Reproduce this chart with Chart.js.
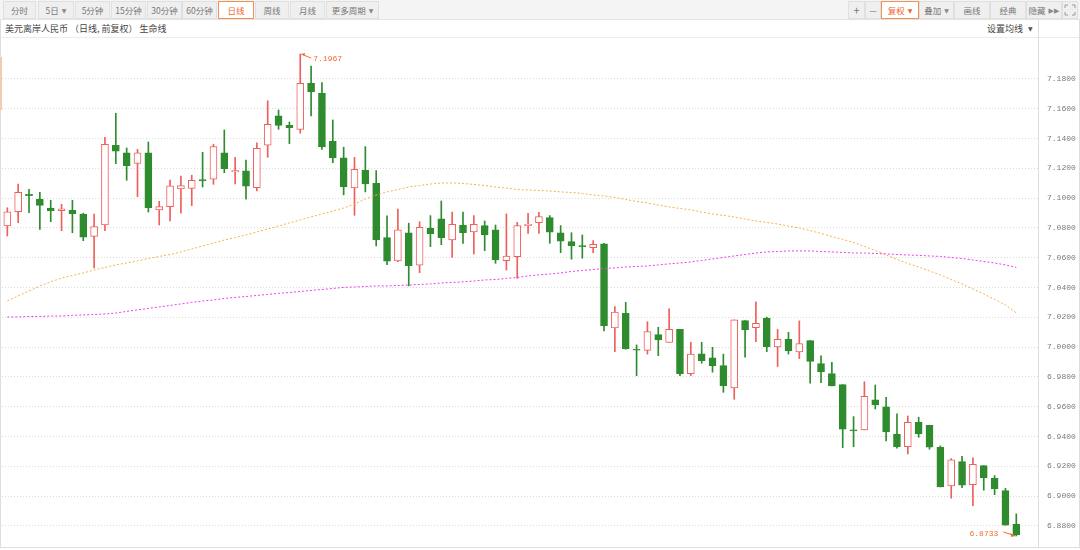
<!DOCTYPE html>
<html>
<head>
<meta charset="utf-8">
<script src="https://cdn.jsdelivr.net/npm/chart.js@4.4.1/dist/chart.umd.min.js"></script>
<style>
  body { margin: 0; width: 1080px; height: 550px; position: relative; overflow: hidden; background: #fff;
         font-family: "Noto Sans CJK SC", "Noto Sans", sans-serif; }
  #bar { position: absolute; left: 0; top: 0; width: 1080px; height: 20px; background: #f4f4f4; border-bottom: 1px solid #e3e3e3; box-sizing: border-box; }
  .b { position: absolute; top: 1px; height: 18px; line-height: 17px; box-sizing: border-box; border: 1px solid #e0e0e0;
       background: #efefef; color: #777; font-size: 8.5px; text-align: center; white-space: nowrap; }
  .b.on { background: #fff; border-color: #f19158; color: #f0662a; }
  .tri { font-family: "DejaVu Sans", sans-serif; font-size: 6px; color: #888; vertical-align: 1px; margin-left: 3px; }
  .on .tri { color: #f0662a; }
  #sub { position: absolute; left: 0; top: 20px; width: 1080px; height: 18px; border-bottom: 1px solid #ececec; box-sizing: border-box; }
  #title { position: absolute; left: 5px; top: 2px; font-size: 9px; color: #444; line-height: 14px; }
  #ma { position: absolute; left: 987px; top: 2px; font-size: 9px; color: #444; line-height: 14px; }
  #c { position: absolute; left: 0; top: 38px; }
  .ln { position: absolute; background: #dedede; }
</style>
</head>
<body>
<div id="bar">
  <div class="b" style="left:3px;width:33px">分时</div>
  <div class="b" style="left:38px;width:36px">5日<span class="tri">▼</span></div>
  <div class="b" style="left:75px;width:35px">5分钟</div>
  <div class="b" style="left:111px;width:35px">15分钟</div>
  <div class="b" style="left:147px;width:35px">30分钟</div>
  <div class="b" style="left:182px;width:35px">60分钟</div>
  <div class="b on" style="left:218px;width:36px">日线</div>
  <div class="b" style="left:255px;width:34px">周线</div>
  <div class="b" style="left:290px;width:35px">月线</div>
  <div class="b" style="left:326px;width:53px">更多周期<span class="tri">▼</span></div>

  <div class="b" style="left:848px;width:17px;font-size:11px">+</div>
  <div class="b" style="left:865px;width:16px">—</div>
  <div class="b on" style="left:881px;width:38px">复权<span class="tri">▼</span></div>
  <div class="b" style="left:919px;width:35px">叠加<span class="tri">▼</span></div>
  <div class="b" style="left:954px;width:36px">画线</div>
  <div class="b" style="left:990px;width:36px">经典</div>
  <div class="b" style="left:1026px;width:36px">隐藏<span class="tri" style="font-size:7px">▶▶</span></div>
  <div class="b" style="left:1062px;width:16px">
    <svg width="12" height="12" viewBox="0 0 12 12" style="margin-top:2px" fill="none" stroke="#999" stroke-width="1">
      <path d="M1 4V1H4M8 1H11V4M11 8V11H8M4 11H1V8"/>
    </svg>
  </div>
</div>
<div id="sub">
  <div id="title">美元离岸人民币 （日线, 前复权） 生命线</div>
  <div id="ma">设置均线 <span class="tri" style="color:#555">▼</span></div>
</div>
<canvas id="c" width="1080" height="510"></canvas>
<div class="ln" style="left:0;top:20px;width:1px;height:528px"></div>
<div class="ln" style="left:0;top:57px;width:2px;height:53px;background:#f3cbb0"></div>
<div class="ln" style="left:1038px;top:20px;width:1px;height:528px"></div>
<div class="ln" style="left:1079px;top:20px;width:1px;height:528px"></div>
<div class="ln" style="left:0;top:547px;width:1080px;height:1px"></div>

<script>
// daily candles
const opens = [7.0813,7.0909,7.1028,7.0993,7.0934,7.0916,7.0919,7.0894,7.0744,7.0820,
  7.1355,7.1305,7.1234,7.1305,7.0921,7.0943,7.1062,7.1066,7.1124,7.1127,
  7.1305,7.1176,7.1183,7.1070,7.1355,7.1552,7.1489,7.1462,7.1771,7.1704,
  7.1382,7.1270,7.1068,7.1187,7.1100,7.0735,7.0579,7.0768,7.0550,7.0800,
  7.0862,7.0719,7.0820,7.0773,7.0816,7.0787,7.0581,7.0607,7.0816,7.0836,
  7.0869,7.0768,7.0708,7.0679,7.0668,7.0693,7.0129,7.0227,6.9983,6.9978,
  7.0084,7.0031,7.0120,6.9822,6.9956,6.9928,6.9876,6.9726,7.0178,7.0131,
  7.0196,7.0001,7.0053,6.9968,7.0044,6.9890,6.9822,6.9748,6.9442,6.9444,
  6.9646,6.9599,6.9416,6.9332,6.9496,6.9476,6.9328,6.9068,6.9232,6.9077,
  6.9205,6.9120,6.9037,6.8813];
const highs = [7.0936,7.1095,7.1060,7.1040,7.0986,7.0959,7.0986,7.0899,7.0894,7.1409,
  7.1570,7.1337,7.1328,7.1377,7.0979,7.1122,7.1149,7.1154,7.1308,7.1362,
  7.1458,7.1274,7.1256,7.1372,7.1654,7.1592,7.1511,7.1967,7.1887,7.1775,
  7.1525,7.1342,7.1274,7.1346,7.1185,7.0881,7.0926,7.0832,7.0842,7.0883,
  7.0981,7.0907,7.0907,7.0883,7.0847,7.0820,7.0894,7.0838,7.0899,7.0905,
  7.0883,7.0816,7.0768,7.0753,7.0715,7.0697,7.0272,7.0301,7.0015,7.0171,
  7.0134,7.0258,7.0120,7.0033,7.0033,6.9999,6.9953,7.0183,7.0178,7.0305,
  7.0201,7.0120,7.0100,7.0176,7.0044,6.9941,6.9899,6.9748,6.9534,6.9768,
  6.9746,6.9664,6.9552,6.9538,6.9530,6.9476,6.9337,6.9252,6.9268,6.9258,
  6.9205,6.9138,6.9053,6.8881];
const lows = [7.0746,7.0836,7.0903,7.0791,7.0842,7.0782,7.0768,7.0715,7.0532,7.0782,
  7.1232,7.1120,7.1010,7.0907,7.0820,7.0847,7.0899,7.0950,7.1075,7.1093,
  7.1171,7.1095,7.0993,7.1048,7.1274,7.1462,7.1366,7.1436,7.1552,7.1328,
  7.1238,7.1022,7.0885,7.1042,7.0679,7.0554,7.0574,7.0411,7.0500,7.0675,
  7.0688,7.0603,7.0697,7.0626,7.0648,7.0563,7.0518,7.0462,7.0764,7.0764,
  7.0697,7.0634,7.0590,7.0597,7.0634,7.0109,6.9970,6.9986,6.9809,6.9953,
  6.9943,7.0031,6.9809,6.9809,6.9892,6.9832,6.9697,6.9650,6.9932,7.0037,
  6.9970,6.9870,6.9954,6.9923,6.9758,6.9762,6.9740,6.9326,6.9332,6.9444,
  6.9585,6.9370,6.9322,6.9283,6.9395,6.9315,6.9062,6.8986,6.9057,6.8936,
  6.9040,6.9010,6.8805,6.8733];
const closes = [7.0909,7.1040,7.1017,7.0952,7.0916,7.0928,7.0896,7.0738,7.0809,7.1362,
  7.1315,7.1218,7.1305,7.0936,7.0943,7.1082,7.1084,7.1120,7.1115,7.1346,
  7.1198,7.1185,7.1080,7.1335,7.1496,7.1489,7.1473,7.1771,7.1713,7.1344,
  7.1270,7.1075,7.1194,7.1095,7.0719,7.0577,7.0787,7.0547,7.0805,7.0762,
  7.0735,7.0825,7.0768,7.0825,7.0753,7.0585,7.0612,7.0816,7.0825,7.0876,
  7.0771,7.0711,7.0681,7.0675,7.0691,7.0144,7.0236,6.9990,6.9979,7.0104,
  7.0048,7.0120,6.9820,6.9953,6.9909,6.9874,6.9742,7.0183,7.0116,7.0160,
  7.0003,7.0053,6.9975,7.0024,6.9905,6.9834,6.9740,6.9449,6.9438,6.9670,
  6.9612,6.9431,6.9332,6.9496,6.9418,6.9328,6.9062,6.9243,6.9073,6.9214,
  6.9122,6.9050,6.8805,6.8740];

// the two dotted average lines
const maOrange = [7.0310,7.0344,7.0377,7.0411,7.0438,7.0464,7.0481,7.0498,7.0518,7.0535,
  7.0552,7.0565,7.0579,7.0595,7.0609,7.0622,7.0639,7.0659,7.0679,7.0699,
  7.0719,7.0736,7.0753,7.0773,7.0793,7.0813,7.0834,7.0854,7.0874,7.0894,
  7.0914,7.0934,7.0961,7.0995,7.1021,7.1042,7.1058,7.1075,7.1085,7.1095,
  7.1102,7.1102,7.1099,7.1092,7.1085,7.1075,7.1068,7.1058,7.1055,7.1052,
  7.1048,7.1042,7.1038,7.1032,7.1021,7.1015,7.1005,7.0991,7.0978,7.0968,
  7.0954,7.0941,7.0931,7.0921,7.0907,7.0894,7.0884,7.0874,7.0860,7.0847,
  7.0837,7.0827,7.0813,7.0800,7.0783,7.0763,7.0743,7.0723,7.0703,7.0676,
  7.0649,7.0619,7.0589,7.0562,7.0538,7.0511,7.0485,7.0454,7.0424,7.0391,
  7.0357,7.0320,7.0283,7.0230];
const maPink = [7.0203,7.0203,7.0206,7.0206,7.0209,7.0209,7.0213,7.0216,7.0219,7.0223,
  7.0229,7.0240,7.0250,7.0260,7.0270,7.0280,7.0290,7.0300,7.0310,7.0317,
  7.0327,7.0334,7.0340,7.0347,7.0354,7.0361,7.0367,7.0374,7.0381,7.0387,
  7.0394,7.0401,7.0404,7.0407,7.0411,7.0411,7.0414,7.0417,7.0421,7.0424,
  7.0431,7.0434,7.0438,7.0444,7.0451,7.0454,7.0461,7.0468,7.0478,7.0485,
  7.0491,7.0498,7.0508,7.0515,7.0521,7.0528,7.0532,7.0538,7.0542,7.0545,
  7.0552,7.0559,7.0565,7.0572,7.0582,7.0592,7.0602,7.0612,7.0622,7.0632,
  7.0639,7.0642,7.0646,7.0646,7.0646,7.0642,7.0639,7.0636,7.0632,7.0632,
  7.0629,7.0626,7.0622,7.0619,7.0616,7.0612,7.0609,7.0602,7.0595,7.0585,
  7.0575,7.0565,7.0552,7.0535];

const yTicks = [6.88,6.90,6.92,6.94,6.96,6.98,7.00,7.02,7.04,7.06,7.08,7.10,7.12,7.14,7.16,7.18];

const RED = '#ef5f5c', GREEN = '#2e8b2e', MARK = '#f36c2c';
const idx = opens.map((_, i) => i);
const up = i => closes[i] >= opens[i];

// max / min labels with their little arrows
const marks = {
  id: 'marks',
  afterDatasetsDraw(chart) {
    const { ctx, scales: { x, y } } = chart;
    const hi = highs.indexOf(Math.max(...highs));
    const lo = lows.indexOf(Math.min(...lows));
    ctx.save();
    ctx.strokeStyle = MARK;
    ctx.fillStyle = MARK;
    ctx.lineWidth = 1;
    ctx.font = '8px "Liberation Mono", monospace';
    ctx.textBaseline = 'middle';

    let px = x.getPixelForValue(hi), py = y.getPixelForValue(highs[hi]);
    ctx.beginPath(); ctx.moveTo(px + 1, py); ctx.lineTo(px + 11, py + 4); ctx.stroke();
    ctx.beginPath(); ctx.moveTo(px + 1, py); ctx.lineTo(px + 5, py - 1); ctx.lineTo(px + 4, py + 2); ctx.fill();
    ctx.textAlign = 'left';
    ctx.fillText(highs[hi].toFixed(4), px + 13, py + 5);

    px = x.getPixelForValue(lo); py = y.getPixelForValue(lows[lo]);
    ctx.beginPath(); ctx.moveTo(px - 1, py); ctx.lineTo(px - 13, py - 4); ctx.stroke();
    ctx.beginPath(); ctx.moveTo(px - 1, py); ctx.lineTo(px - 6, py - 3); ctx.lineTo(px - 5, py + 1); ctx.fill();
    ctx.textAlign = 'right';
    ctx.fillText(lows[lo].toFixed(4), px - 18, py - 2);
    ctx.restore();
  }
};

new Chart(document.getElementById('c'), {
  data: {
    datasets: [
      {
        type: 'line', order: 0,
        data: idx.map(i => ({ x: i, y: maOrange[i] })),
        borderColor: '#f8b04a', borderWidth: 1, borderDash: [2, 2], pointRadius: 0
      },
      {
        type: 'line', order: 0,
        data: idx.map(i => ({ x: i, y: maPink[i] })),
        borderColor: '#ee3cee', borderWidth: 1, borderDash: [2, 2], pointRadius: 0
      },
      {
        type: 'bar', order: 1, grouped: false,
        data: idx.map(i => ({ x: i, y: [opens[i], closes[i]] })),
        backgroundColor: idx.map(i => up(i) ? '#ffffff' : GREEN),
        borderColor: idx.map(i => up(i) ? RED : GREEN),
        borderWidth: 1, borderSkipped: false, barThickness: 7, minBarLength: 1
      },
      {
        type: 'bar', order: 2, grouped: false,
        data: idx.map(i => ({ x: i, y: [lows[i], highs[i]] })),
        backgroundColor: idx.map(i => up(i) ? RED : GREEN),
        borderWidth: 0, barThickness: 1
      }
    ]
  },
  options: {
    responsive: false,
    animation: false,
    events: [],
    layout: { padding: { left: 2, right: 0, top: 0, bottom: 0 } },
    plugins: { legend: { display: false }, tooltip: { enabled: false } },
    scales: {
      x: { type: 'linear', min: -0.49, max: 95, offset: false, grace: 0, display: false },
      y: {
        position: 'right',
        min: 6.8652, max: 7.2075,
        afterBuildTicks: s => { s.ticks = yTicks.map(v => ({ value: v })); },
        afterFit: s => { s.width = 42; s.paddingTop = 0; s.paddingBottom = 0; },
        grid: { color: '#dadada', drawTicks: false, borderDash: [1, 2] },
        border: { display: false, dash: [1, 2] },
        ticks: {
          padding: 9, color: '#7a7a7a',
          font: { family: '"Liberation Mono", monospace', size: 8 },
          callback: v => Number(v).toFixed(4)
        }
      }
    }
  },
  plugins: [marks]
});
</script>
</body>
</html>
